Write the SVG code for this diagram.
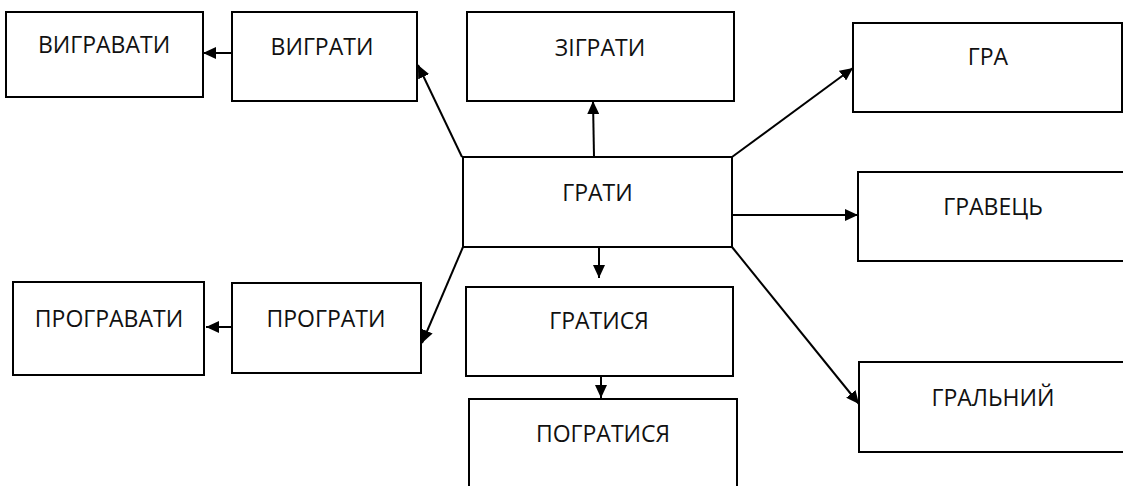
<svg xmlns="http://www.w3.org/2000/svg" width="1123" height="486" viewBox="0 0 1123 486">
<style>
.box{fill:#fff;stroke:#000;stroke-width:2}
.lbl{font-family:"Open Sans","Liberation Sans",sans-serif;font-size:23px;fill:#111;text-anchor:middle}
.con{stroke:#000;stroke-width:2;fill:none;marker-end:url(#ah)}
</style>
<defs>
<marker id="ah" markerUnits="userSpaceOnUse" markerWidth="14" markerHeight="12" refX="13" refY="6" orient="auto" viewBox="0 0 14 12">
<path d="M0,0 L13,6 L0,12 Z" fill="#000"/>
</marker>
</defs>
<rect width="1123" height="486" fill="#fff"/>
<g id="vygravaty"><rect class="box" x="6" y="12" width="197" height="85"/><text class="lbl" x="104" y="53">ВИГРАВАТИ</text></g>
<g id="vygraty"><rect class="box" x="232" y="12" width="185" height="89"/><text class="lbl" x="322" y="55">ВИГРАТИ</text></g>
<g id="zigraty"><rect class="box" x="467" y="12" width="267" height="89"/><text class="lbl" x="600" y="56">ЗІГРАТИ</text></g>
<g id="gra"><rect class="box" x="853" y="23" width="269" height="89"/><text class="lbl" x="988" y="65">ГРА</text></g>
<g id="graty"><rect class="box" x="463" y="157" width="269" height="90"/><text class="lbl" x="597.5" y="201">ГРАТИ</text></g>
<g id="gravets"><rect class="box" x="858" y="172" width="270" height="89"/><text class="lbl" x="993" y="215">ГРАВЕЦЬ</text></g>
<g id="progravaty"><rect class="box" x="13" y="282" width="191" height="93"/><text class="lbl" x="109" y="327">ПРОГРАВАТИ</text></g>
<g id="prograty"><rect class="box" x="232" y="283" width="189" height="90"/><text class="lbl" x="326" y="327">ПРОГРАТИ</text></g>
<g id="gratysia"><rect class="box" x="466" y="287" width="267" height="89"/><text class="lbl" x="599" y="329">ГРАТИСЯ</text></g>
<g id="pogratysia"><rect class="box" x="469" y="399" width="268" height="92"/><text class="lbl" x="603" y="442">ПОГРАТИСЯ</text></g>
<g id="gralnyi"><rect class="box" x="859" y="362" width="270" height="90"/><text class="lbl" x="993" y="406">ГРАЛЬНИЙ</text></g>
<g id="connectors">
<line class="con" x1="232" y1="53" x2="203" y2="53"/>
<line class="con" x1="462" y1="157" x2="418" y2="65"/>
<line class="con" x1="594" y1="157" x2="593" y2="101"/>
<line class="con" x1="732" y1="157" x2="853" y2="68"/>
<line class="con" x1="732" y1="215" x2="858" y2="215"/>
<line class="con" x1="732" y1="247" x2="859" y2="404"/>
<line class="con" x1="599" y1="247" x2="599" y2="278"/>
<line class="con" x1="601" y1="376" x2="601" y2="398"/>
<line class="con" x1="463" y1="247" x2="422" y2="343"/>
<line class="con" x1="232" y1="327" x2="206" y2="327"/>
</g>
</svg>
